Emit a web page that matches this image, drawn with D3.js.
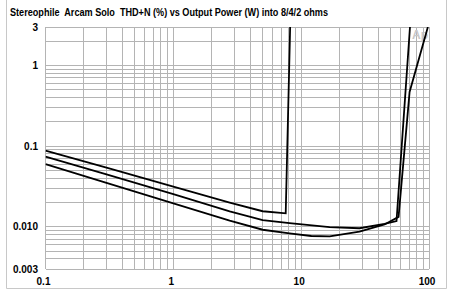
<!DOCTYPE html>
<html>
<head>
<meta charset="utf-8">
<script src="https://cdn.jsdelivr.net/npm/d3@7"></script>
<style>
	body { margin: 0; background: #fff; }
	svg { display: block; }
	text { font-family: "Liberation Sans", Arial, Helvetica, sans-serif; font-weight: bold; fill: #000; }
</style>
</head>
<body>
<svg id="chart" width="450" height="294"></svg>
<script>
const TITLE = "Stereophile  Arcam Solo  THD+N (%) vs Output Power (W) into 8/4/2 ohms";

const xTickValues = [0.1, 1, 10, 100];
const xTickLabels = ["0.1", "1", "10", "100"];
const yTickValues = [3, 1, 0.1, 0.01, 0.003];
const yTickLabels = ["3", "1", "0.1", "0.010", "0.003"];

// 2 ohm (clips early), 4 ohm, 8 ohm
const power2 = [0.1, 0.3, 1, 2.76, 5, 7.57, 8.2];
const thd2 = [0.088, 0.054, 0.0314, 0.020, 0.0156, 0.0147, 3];

const power4 = [0.1, 0.3, 1, 2.76, 5, 8.1, 16.7, 28.6, 44.9, 55.7, 71];
const thd4 = [0.074, 0.0446, 0.0255, 0.0155, 0.0121, 0.0111, 0.0099, 0.0096, 0.0109, 0.0118, 3];

const power8 = [0.1, 0.3, 1, 2.76, 5, 8.1, 12, 16.7, 28.6, 44.9, 57.8, 70.5, 98];
const thd8 = [0.060, 0.035, 0.0195, 0.0119, 0.0092, 0.0083, 0.0077, 0.0076, 0.0087, 0.0107, 0.0133, 0.47, 3];

const series = [
	{ power: power2, thd: thd2 },
	{ power: power4, thd: thd4 },
	{ power: power8, thd: thd8 }
];

const margin = { left: 45.5, right: 21, top: 27, bottom: 25 };
const width = 450, height = 294;

const svg = d3.select("#chart");

const x = d3.scaleLog()
	.domain([0.1, 100])
	.range([margin.left, width - margin.right]);
const y = d3.scaleLog()
	.domain([0.003, 3])
	.range([height - margin.bottom, margin.top]);

// outer frame
svg.append("path")
	.attr("d", "M6.5,0 V288.5 H446.5 V0")
	.attr("fill", "none")
	.attr("stroke", "#c8c8c8")
	.attr("stroke-width", 1);

// log grid
const xGrid = [];
[0.1, 1, 10].forEach(d => d3.range(1, 10).forEach(k => xGrid.push(k * d)));
xGrid.push(100);
const yGrid = [];
[0.001, 0.01, 0.1].forEach(d => d3.range(1, 10).forEach(k => {
	const v = +(k * d).toPrecision(3);
	if (v >= 0.003) yGrid.push(v);
}));
yGrid.push(1, 2, 3);

const grid = svg.append("g")
	.attr("stroke", "#b4b4b4")
	.attr("stroke-width", 1)
	.attr("shape-rendering", "crispEdges");

grid.selectAll("line.v")
	.data(xGrid)
	.join("line")
	.attr("class", "v")
	.attr("x1", d => x(d)).attr("x2", d => x(d))
	.attr("y1", y(3)).attr("y2", y(0.003));

grid.selectAll("line.h")
	.data(yGrid)
	.join("line")
	.attr("class", "h")
	.attr("x1", x(0.1)).attr("x2", x(100))
	.attr("y1", d => y(d)).attr("y2", d => y(d));

// faint Audio Precision mark
svg.append("text")
	.attr("x", 412)
	.attr("y", 39)
	.attr("font-size", 12)
	.attr("font-weight", "normal")
	.style("fill", "#c8c8c8")
	.text("Ap");

// curves
svg.append("clipPath")
	.attr("id", "plot-clip")
	.append("rect")
	.attr("x", x(0.1))
	.attr("y", y(3))
	.attr("width", x(100) - x(0.1))
	.attr("height", y(0.003) - y(3));

const line = d3.line()
	.x(d => x(d[0]))
	.y(d => y(d[1]));

svg.append("g")
	.attr("clip-path", "url(#plot-clip)")
	.selectAll("path")
	.data(series)
	.join("path")
	.attr("d", s => line(s.power.map((p, i) => [p, s.thd[i]])))
	.attr("fill", "none")
	.attr("stroke", "#000")
	.attr("stroke-width", 1.8)
	.attr("stroke-linejoin", "miter");

// axis labels
svg.append("g")
	.selectAll("text")
	.data(yTickValues)
	.join("text")
	.attr("x", 38)
	.attr("y", d => y(d))
	.attr("dy", "0.35em")
	.attr("text-anchor", "end")
	.attr("font-size", 10)
	.text((d, i) => yTickLabels[i]);

svg.append("g")
	.selectAll("text")
	.data(xTickValues)
	.join("text")
	.attr("x", d => x(d) - 2)
	.attr("y", 285)
	.attr("text-anchor", "middle")
	.attr("font-size", 10)
	.text((d, i) => xTickLabels[i]);

// title
svg.append("text")
	.attr("x", 10)
	.attr("y", 16)
	.attr("font-size", 10)
	.attr("textLength", 318)
	.attr("lengthAdjust", "spacingAndGlyphs")
	.style("white-space", "pre")
	.text(TITLE);
</script>
</body>
</html>
